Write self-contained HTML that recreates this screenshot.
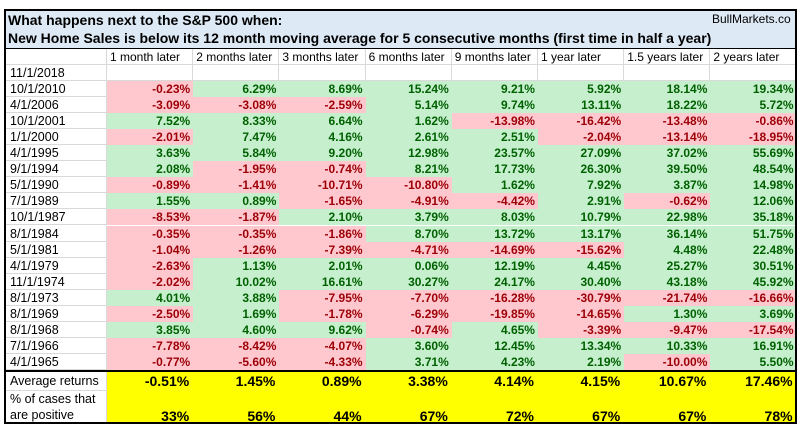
<!DOCTYPE html>
<html><head><meta charset="utf-8"><style>
body{margin:0;width:800px;height:428px;background:#fff;position:relative;overflow:hidden;font-family:"Liberation Sans",sans-serif}
.c{position:absolute;box-sizing:border-box;white-space:nowrap;overflow:hidden;font-size:12px;line-height:16px}
.g{border-right:1px solid #d9d9d9;border-bottom:1px solid #d9d9d9}
</style></head><body>
<div class="c" style="left:4px;top:9px;width:793px;height:40px;background:#dde9f5;border:2px solid #000;border-bottom:1px solid #000"></div>
<div class="c" style="left:8px;top:11px;font-size:14px;font-weight:bold;line-height:18px">What happens next to the S&amp;P 500 when:</div>
<div class="c" style="left:8px;top:29px;font-size:14px;font-weight:bold;line-height:18px">New Home Sales is below its 12 month moving average for 5 consecutive months (first time in half a year)</div>
<div class="c" style="left:712px;top:10px;font-size:12px;line-height:18px">BullMarkets.co</div>
<div id="t"></div>
<script>
const columns=["1 month later","2 months later","3 months later","6 months later","9 months later","1 year later","1.5 years later","2 years later"];
const dates=["11/1/2018","10/1/2010","4/1/2006","10/1/2001","1/1/2000","4/1/1995","9/1/1994","5/1/1990","7/1/1989","10/1/1987","8/1/1984","5/1/1981","4/1/1979","11/1/1974","8/1/1973","8/1/1969","8/1/1968","7/1/1966","4/1/1965"];
const returns=[
null,
[-0.23,6.29,8.69,15.24,9.21,5.92,18.14,19.34],
[-3.09,-3.08,-2.59,5.14,9.74,13.11,18.22,5.72],
[7.52,8.33,6.64,1.62,-13.98,-16.42,-13.48,-0.86],
[-2.01,7.47,4.16,2.61,2.51,-2.04,-13.14,-18.95],
[3.63,5.84,9.20,12.98,23.57,27.09,37.02,55.69],
[2.08,-1.95,-0.74,8.21,17.73,26.30,39.50,48.54],
[-0.89,-1.41,-10.71,-10.80,1.62,7.92,3.87,14.98],
[1.55,0.89,-1.65,-4.91,-4.42,2.91,-0.62,12.06],
[-8.53,-1.87,2.10,3.79,8.03,10.79,22.98,35.18],
[-0.35,-0.35,-1.86,8.70,13.72,13.17,36.14,51.75],
[-1.04,-1.26,-7.39,-4.71,-14.69,-15.62,4.48,22.48],
[-2.63,1.13,2.01,0.06,12.19,4.45,25.27,30.51],
[-2.02,10.02,16.61,30.27,24.17,30.40,43.18,45.92],
[4.01,3.88,-7.95,-7.70,-16.28,-30.79,-21.74,-16.66],
[-2.50,1.69,-1.78,-6.29,-19.85,-14.65,1.30,3.69],
[3.85,4.60,9.62,-0.74,4.65,-3.39,-9.47,-17.54],
[-7.78,-8.42,-4.07,3.60,12.45,13.34,10.33,16.91],
[-0.77,-5.60,-4.33,3.71,4.23,2.19,-10.00,5.50]];
const averages=[-0.51,1.45,0.89,3.38,4.14,4.15,10.67,17.46];
const positivePct=[33,56,44,67,72,67,67,78];
const T=document.getElementById('t');
const X0=4,LW=103,CW=86.2,HY=49,HH=15.5,RH=16.1;
function cell(x,y,w,h,txt,css,name){const d=document.createElement('div');d.className='c g';d.style.cssText=`left:${x}px;top:${y}px;width:${w}px;height:${h}px;`+css;d.textContent=txt;


T.appendChild(d);return d;}
cell(X0,HY,LW,HH,'','border-left:2px solid #000;','header-blank');
columns.forEach((c,i)=>cell(X0+LW+i*CW,HY,CW,HH,c,'padding-left:3px;','column-header'));
dates.forEach((dt,r)=>{const y=HY+HH+r*RH;
cell(X0,y,LW,RH,dt,'padding-left:4px;border-left:2px solid #000;font-size:12.5px;','row-date');
columns.forEach((c,i)=>{const v=returns[r]?returns[r][i]:null;
let css='text-align:right;padding-right:2px;font-weight:bold;';
if(v!==null)css+=v<0?'background:#ffc7ce;color:#9c0006;border-color:#ffc7ce;':'background:#c6efce;color:#006100;border-color:#c6efce;';
cell(X0+LW+i*CW,y,CW,RH,v===null?'':v.toFixed(2)+'%',css,'return-cell');});});
const yb=HY+HH+dates.length*RH;
const sep=document.createElement('div');sep.className='c';sep.style.cssText=`left:${X0}px;top:${yb}px;width:793px;height:2px;background:#000`;


T.appendChild(sep);
const ay=yb+2;
cell(X0,ay,LW,19,'Average returns','padding-left:4px;border-left:2px solid #000;line-height:19px;font-size:12.5px;','average-label');
averages.forEach((v,i)=>cell(X0+LW+i*CW,ay,CW,19,v.toFixed(2)+'%','background:#ffff00;border-color:#ffff00;text-align:right;padding-right:3px;font-weight:bold;font-size:14px;line-height:19px;','average-cell'));
const py=ay+19,ph=424-py;
cell(X0,py,LW,ph,'% of cases that are positive','padding-left:4px;border-left:2px solid #000;white-space:normal;line-height:16px;font-size:12.5px;','positive-label');
positivePct.forEach((v,i)=>cell(X0+LW+i*CW,py,CW,ph,v+'%','background:#ffff00;border-color:#ffff00;text-align:right;padding-right:3px;font-weight:bold;font-size:14px;line-height:16px;padding-top:17px;','positive-cell'));
const fr=document.createElement('div');fr.className='c';fr.style.cssText=`left:${X0}px;top:9px;width:793px;height:${424-9}px;border:2px solid #000;`;


T.appendChild(fr);
</script>
</body></html>
